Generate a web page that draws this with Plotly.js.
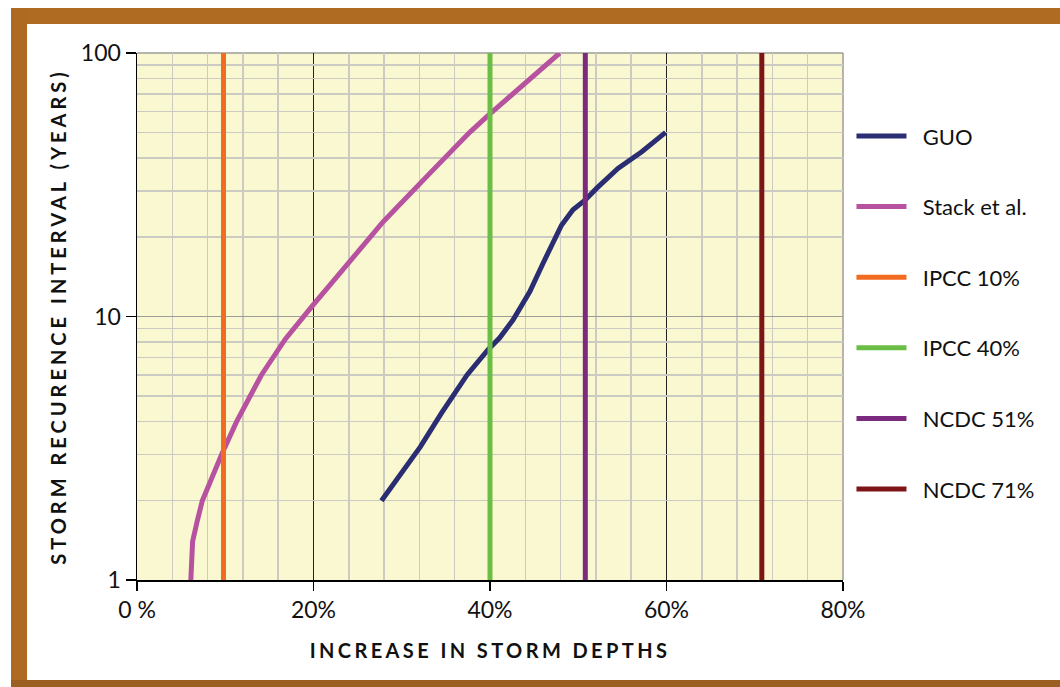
<!DOCTYPE html>
<html>
<head>
<meta charset="utf-8">
<script src="https://cdn.plot.ly/plotly-3.0.1.min.js"></script>
<style>
  html, body { margin: 0; padding: 0; background: #ffffff; }
  #wrap { position: relative; width: 1060px; height: 687px; overflow: hidden; background: #ffffff; }
  .band { position: absolute; }
  #top { left: 11px; top: 8px; width: 1049px; height: 16px; background: #b06b22; }
  #left { left: 11px; top: 8px; width: 16px; height: 679px; background: #af6a22; }
  #bottom { left: 11px; top: 680px; width: 1049px; height: 7px; background: #9b5f22; }
  #chart { position: absolute; left: 0; top: 0; width: 1060px; height: 687px; }
  .xtitle { letter-spacing: 3.4px; }
  .y2title, .ytitle { letter-spacing: 4px; }
</style>
</head>
<body>
<div id="wrap">
  <div class="band" id="top"></div>
  <div class="band" id="left"></div>
  <div class="band" id="bottom"></div>
  <div id="chart"></div>
</div>
<script>
// ---- data (x = % increase in storm depth, y = recurrence interval in years) ----
const guoX   = [27.7, 32.1, 34.5, 37.4, 39.8, 41.1, 42.6, 44.5, 46.0, 48.1, 49.4, 50.8, 52.1, 54.5, 57.2, 59.9];
const guoY   = [2.0, 3.2, 4.3, 6.0, 7.5, 8.3, 9.7, 12.4, 15.9, 22.2, 25.4, 27.7, 30.7, 36.5, 42.2, 50.0];
const stackX = [6.1, 6.3, 6.8, 7.4, 9.6, 11.3, 14.1, 16.8, 19.8, 23.9, 27.9, 33.2, 37.7, 39.8, 47.9];
const stackY = [1.0, 1.4, 1.66, 2.0, 3.0, 4.0, 6.0, 8.2, 10.9, 16.0, 22.9, 35.0, 50.0, 58.0, 100.0];
const refNames  = ["IPCC 10%", "IPCC 40%", "NCDC 51%", "NCDC 71%"];
const refValues = [9.8, 40.0, 50.8, 70.8];
const refColors = ["#f26b21", "#6abd45", "#7b2a7e", "#7d1517"];
const yRange = [1, 100];
const xTickVals = [0, 20, 40, 60, 80];
const xTickText = ["0 %", "20%", "40%", "60%", "80%"];
const yTickVals = [1, 10, 100];
const yTickText = ["1", "10", "100"];
const yMinorVals = [2, 3, 4, 5, 6, 7, 8, 9, 20, 30, 40, 50, 60, 70, 80, 90];

const font = "Lato, 'Open Sans', 'Liberation Sans', sans-serif";
const pad = "\u00a0\u00a0";

const traces = [
  { x: guoX, y: guoY, name: pad + "GUO", mode: "lines",
    line: { color: "#2b2d72", width: 5 }, legendgroup: "g1" },
  { x: stackX, y: stackY, name: pad + "Stack et al.", mode: "lines",
    line: { color: "#b6529f", width: 5 }, legendgroup: "g2" }
];
refValues.forEach((v, i) => {
  traces.push({
    x: [v, v], y: yRange, name: pad + refNames[i], mode: "lines",
    line: { color: refColors[i], width: 5 }, legendgroup: "r" + i
  });
});
// invisible helper trace so the overlay axis (y2) is drawn
traces.push({ x: [0], y: [1], yaxis: "y2", mode: "lines", showlegend: false,
  hoverinfo: "skip", line: { width: 0, color: "rgba(0,0,0,0)" } });

const layout = {
  width: 1060, height: 687,
  paper_bgcolor: "rgba(0,0,0,0)",
  plot_bgcolor: "#faf8d0",
  margin: { l: 137, r: 217, t: 53, b: 107 },
  font: { family: font, color: "#111111", size: 22 },
  showlegend: true,
  legend: {
    x: 1.012, xanchor: "left", y: 0.882, yanchor: "top",
    font: { family: font, size: 22, color: "#111111" },
    bgcolor: "rgba(0,0,0,0)", borderwidth: 0,
    traceorder: "grouped", tracegroupgap: 39, itemwidth: 50
  },
  xaxis: {
    range: [0, 80], tickmode: "array", tickvals: xTickVals, ticktext: xTickText,
    showgrid: true, gridcolor: "#222222", gridwidth: 1,
    minor: { dtick: 4, tick0: 0, showgrid: true, gridcolor: "#cbcbc4", gridwidth: 1.5, ticks: "" },
    showline: true, linecolor: "#000000", linewidth: 1.5,
    ticks: "outside", ticklen: 9, tickcolor: "#000000", tickwidth: 1.2,
    tickfont: { family: font, size: 23, color: "#111111" },
    zeroline: false, fixedrange: true,
    title: { text: "INCREASE IN STORM DEPTHS", standoff: 22,
      font: { family: font, size: 20, color: "#111111", weight: "bold" } }
  },
  yaxis: {
    type: "log", range: [0, 2], tickmode: "array", tickvals: yMinorVals,
    showticklabels: false, ticks: "",
    showgrid: true, gridcolor: "#cbcbc4", gridwidth: 1.5,
    showline: false, zeroline: false, fixedrange: true
  },
  yaxis2: {
    type: "log", range: [0, 2], overlaying: "y", side: "left",
    tickmode: "array", tickvals: yTickVals, ticktext: yTickText,
    showgrid: true, gridcolor: "#9c9c98", gridwidth: 1.5,
    showline: true, linecolor: "#000000", linewidth: 1.5,
    ticks: "outside", ticklen: 10, tickcolor: "#000000", tickwidth: 1.2,
    tickfont: { family: font, size: 23, color: "#111111" },
    zeroline: false, fixedrange: true,
    title: { text: "STORM RECURENCE INTERVAL (YEARS)", standoff: 9,
      font: { family: font, size: 20, color: "#111111", weight: "bold" } }
  },
  shapes: [
    { type: "line", xref: "paper", yref: "paper", x0: 0, x1: 1, y0: 1, y1: 1,
      line: { color: "#9c9c98", width: 1.5 }, layer: "between" },
    { type: "line", xref: "paper", yref: "paper", x0: 1, x1: 1, y0: 0, y1: 1,
      line: { color: "#9c9c98", width: 1.5 }, layer: "between" }
  ]
};

Plotly.newPlot("chart", traces, layout, { displayModeBar: false, staticPlot: true });
</script>
</body>
</html>
